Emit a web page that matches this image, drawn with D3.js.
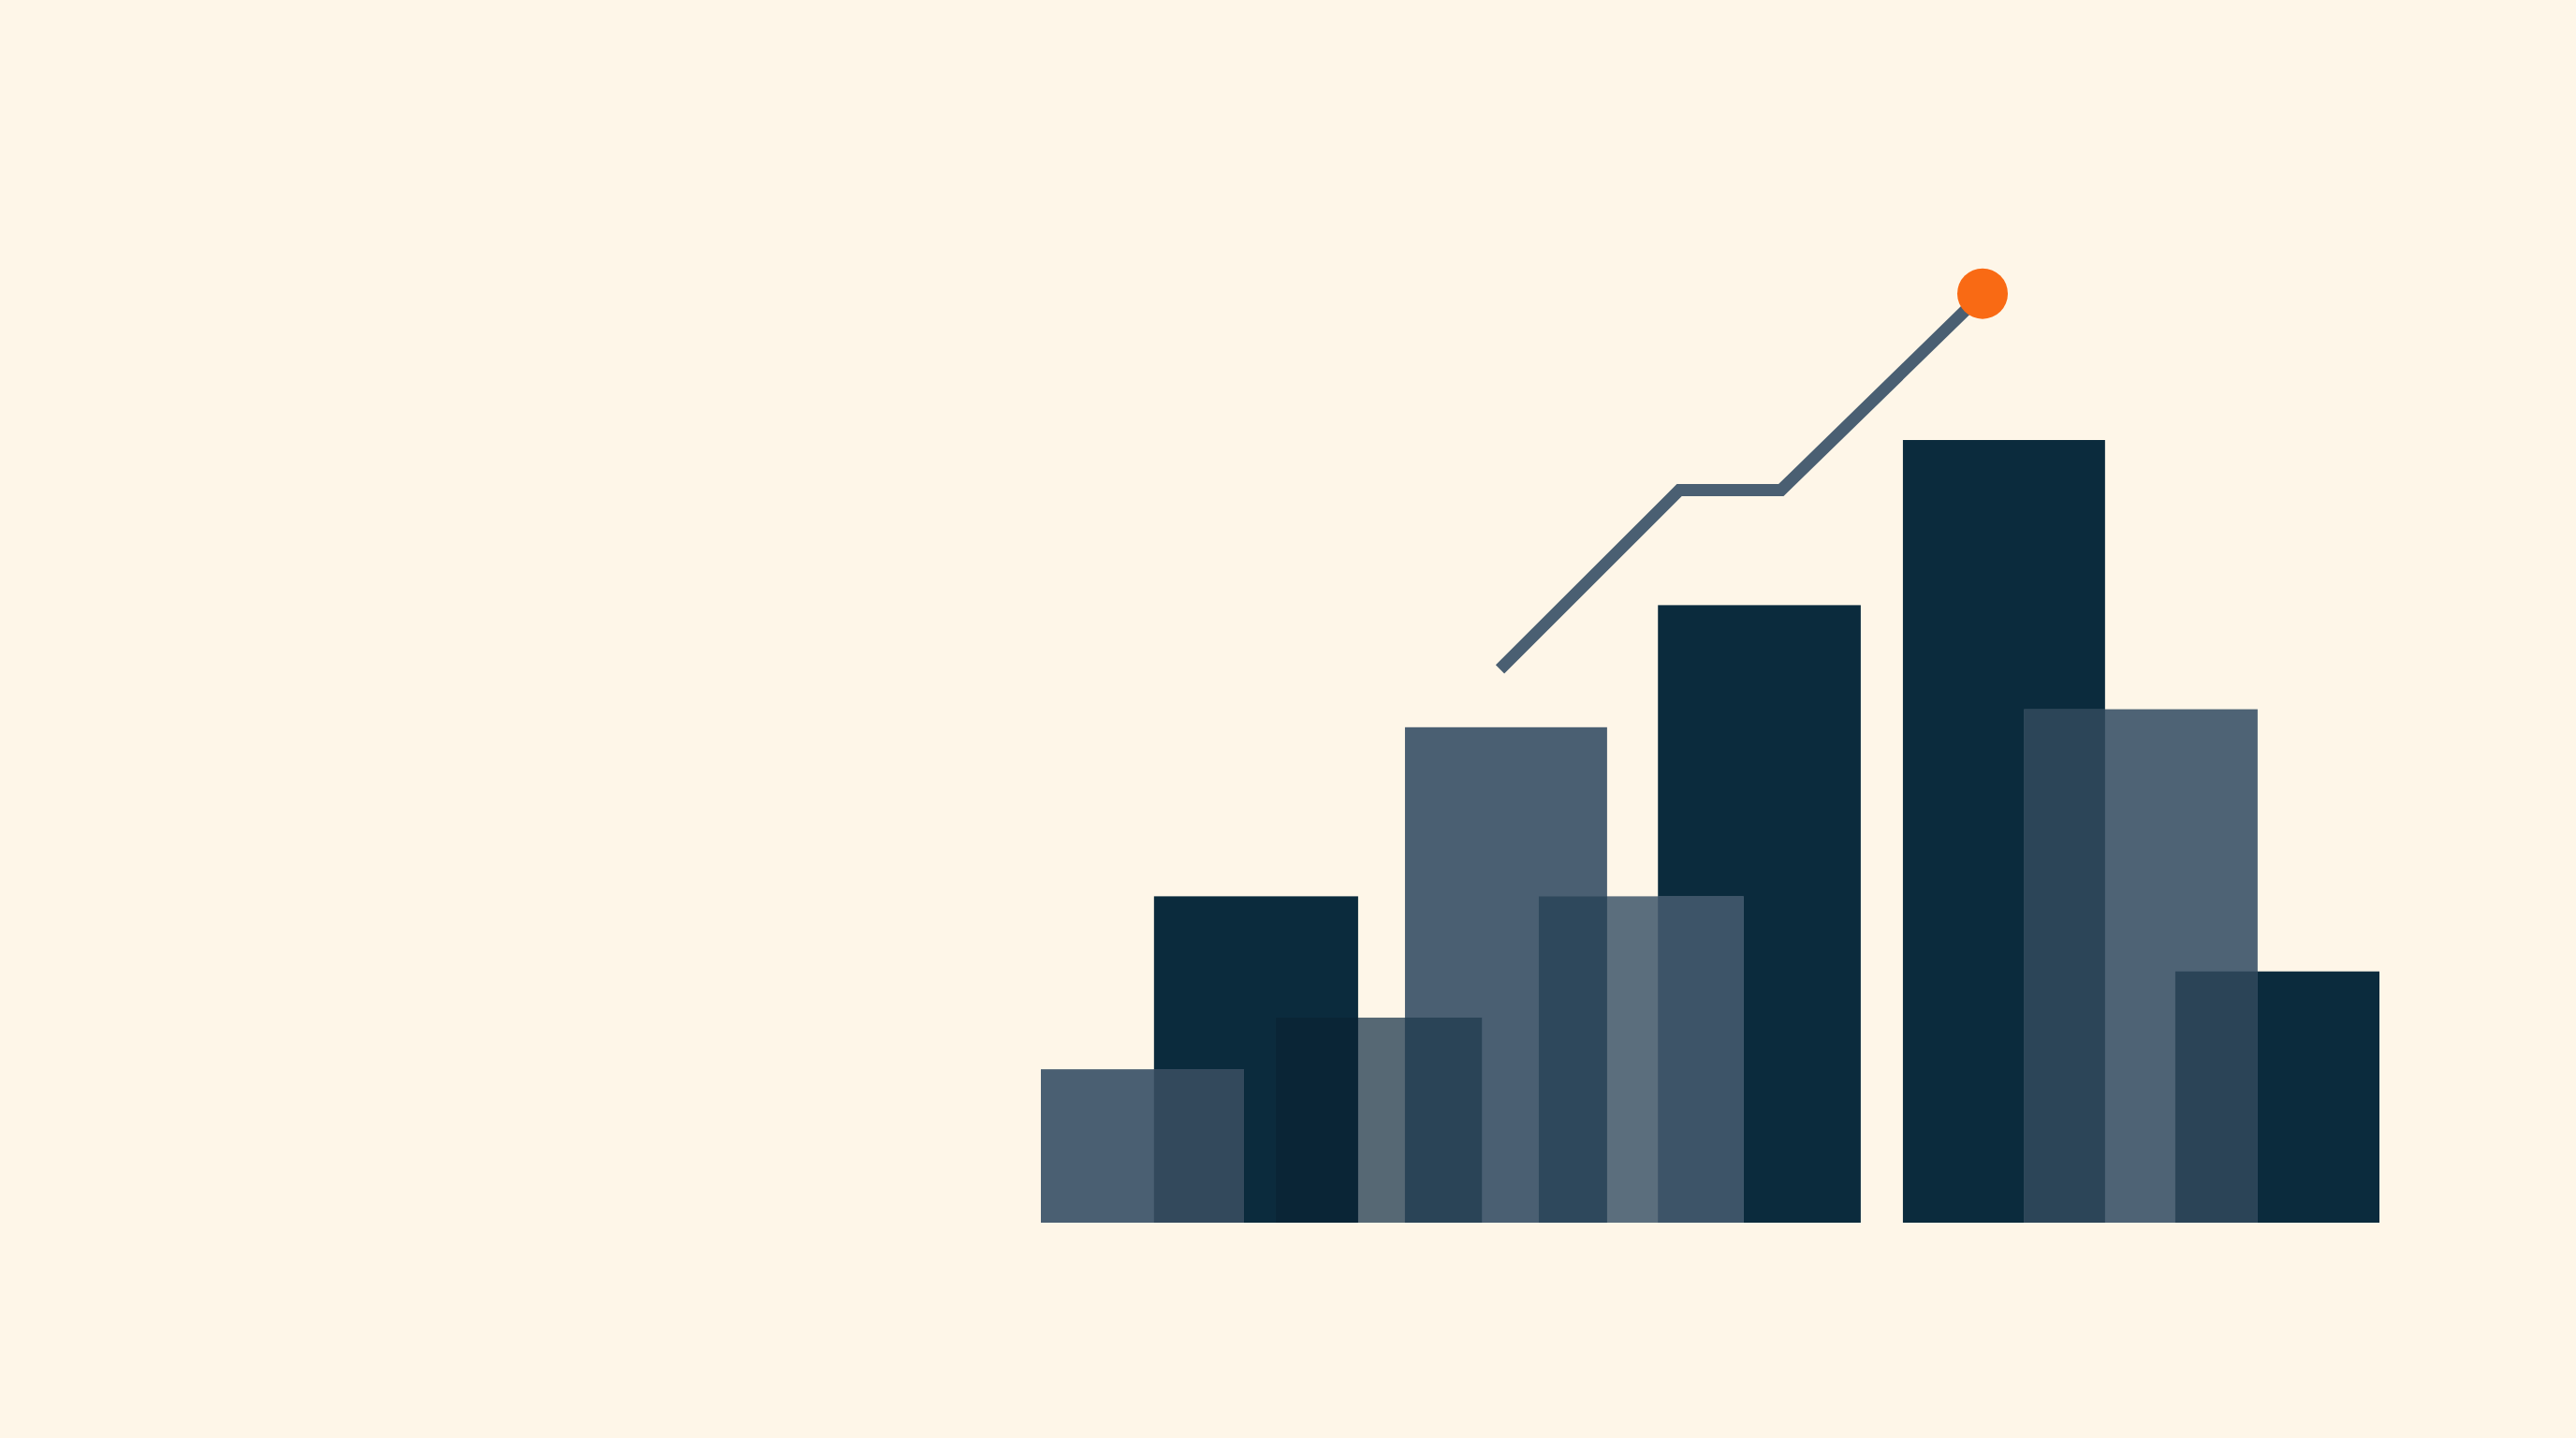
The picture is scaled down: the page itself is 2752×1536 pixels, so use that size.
<!DOCTYPE html>
<html>
<head>
<meta charset="utf-8">
<script src="https://cdn.jsdelivr.net/npm/d3@7"></script>
<style>
  html, body { margin: 0; padding: 0; background: #fef6e8; overflow: hidden; }
</style>
</head>
<body>
<script>
// ---- data (x in period units, values in index units) ----
const darkNames   = ["P1", "P2", "P3", "P4"];
const darkStart   = [1.69, 9.22, 12.88, 16.95];
const darkEnd     = [4.74, 12.25, 15.90, 20.00];
const darkValues  = [41.7, 78.9, 100.0, 32.1];

const lightNames  = ["S1", "S2", "S3", "S4", "S5"];
const lightStart  = [0.00, 3.51, 5.44, 7.44, 14.69];
const lightEnd    = [3.035, 6.59, 8.46, 10.50, 18.18];
const lightValues = [19.6, 26.2, 63.3, 41.7, 65.6];

const trendX = [6.86, 9.54, 11.06, 14.07];
const trendY = [70.7, 93.6, 93.6, 118.7];

// ---- styles ----
const darkFill = "#0b2b3d";
const lightFill = ["#4a5f72", "#566874", "#4a5f72", "#5b6e7d", "#4e6375"];
const overlapFill = {
  "P1|S1": "#33495c",
  "P1|S2": "#0a2536",
  "S2|S3": "#2a4457",
  "S3|S4": "#2e485c",
  "P2|S4": "#3d5468",
  "P3|S5": "#2c4558",
  "P4|S5": "#2b4457"
};

const W = 2752, H = 1536;
const svg = d3.select("body").append("svg")
  .attr("width", W).attr("height", H)
  .attr("viewBox", `0 0 ${W} ${H}`);

svg.append("rect").attr("width", W).attr("height", H).attr("fill", "#fef6e8");

const x = d3.scaleLinear().domain([0, 20]).range([1112, 2542]);
const y = d3.scaleLinear().domain([0, 100]).range([1306, 470]);

const bars = [
  ...darkNames.map((n, i) => ({ name: n, s: darkStart[i], e: darkEnd[i], v: darkValues[i], fill: darkFill })),
  ...lightNames.map((n, i) => ({ name: n, s: lightStart[i], e: lightEnd[i], v: lightValues[i], fill: lightFill[i] }))
];

// overlaps derived from data
const overlaps = [];
for (let i = 0; i < bars.length; i++) {
  for (let j = i + 1; j < bars.length; j++) {
    const a = bars[i], b = bars[j];
    const lo = Math.max(a.s, b.s), hi = Math.min(a.e, b.e);
    if (hi > lo) {
      const key = [a.name, b.name].sort().join("|");
      overlaps.push({ s: lo, e: hi, v: Math.min(a.v, b.v), fill: overlapFill[key] || "#2e465a" });
    }
  }
}

svg.append("g").selectAll("rect").data(bars).join("rect")
  .attr("x", d => x(d.s))
  .attr("width", d => x(d.e) - x(d.s))
  .attr("y", d => y(d.v))
  .attr("height", d => y(0) - y(d.v))
  .attr("fill", d => d.fill);

svg.append("g").selectAll("rect").data(overlaps).join("rect")
  .attr("x", d => x(d.s))
  .attr("width", d => x(d.e) - x(d.s))
  .attr("y", d => y(d.v))
  .attr("height", d => y(0) - y(d.v))
  .attr("fill", d => d.fill);

const pts = trendX.map((v, i) => [v, trendY[i]]);
const line = d3.line().x(d => x(d[0])).y(d => y(d[1]));

svg.append("path")
  .attr("d", line(pts))
  .attr("fill", "none")
  .attr("stroke", "#4a5f72")
  .attr("stroke-width", 13)
  .attr("stroke-linejoin", "miter")
  .attr("stroke-linecap", "butt");

const last = pts[pts.length - 1];
svg.append("circle")
  .attr("cx", x(last[0]))
  .attr("cy", y(last[1]))
  .attr("r", 27)
  .attr("fill", "#f96a14");
</script>
</body>
</html>
